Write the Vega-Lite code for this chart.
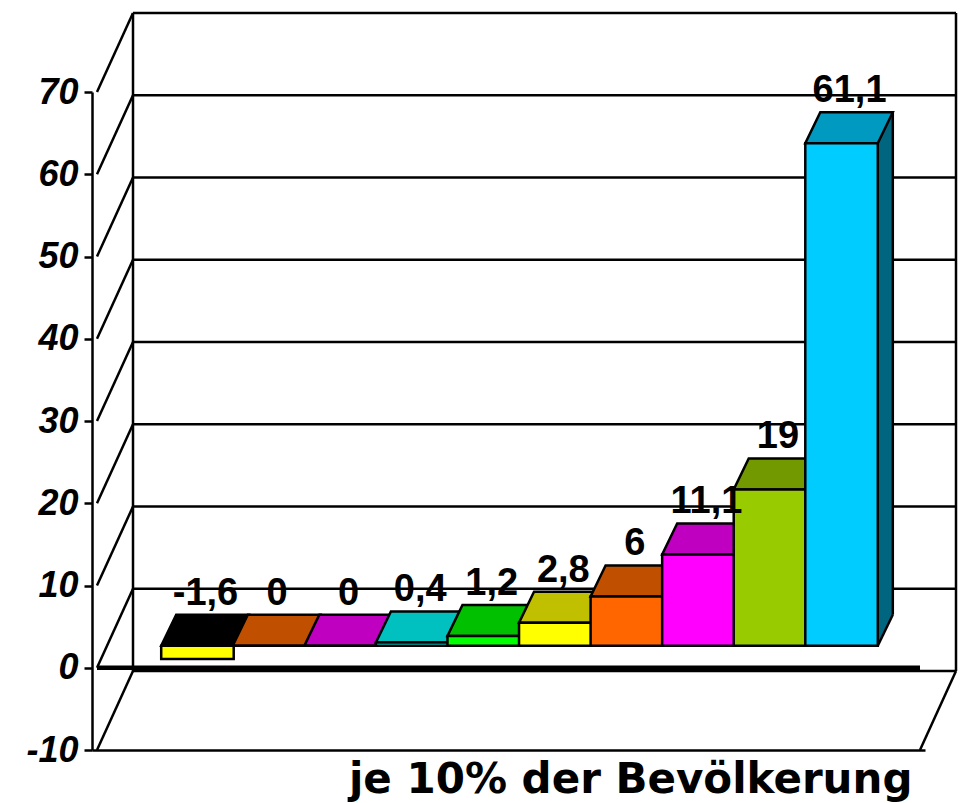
{
  "$schema": "https://vega.github.io/schema/vega-lite/v6.json",
  "width": 833,
  "height": 658,
  "autosize": {"type": "none"},
  "padding": {"left": 92, "top": 92, "right": 42, "bottom": 53},
  "background": "white",
  "config": {
    "view": {"stroke": null},
    "axisX": {
      "domainColor": "black", "domainWidth": 2.5, "ticks": false, "labels": false, "grid": false,
      "titleFont": "DejaVu Sans", "titleFontWeight": "bold", "titleFontSize": 42, "titleColor": "black",
      "titleX": 820, "titleY": 42, "titleAlign": "right", "titleBaseline": "alphabetic"
    },
    "axisY": {
      "domainColor": "black", "domainWidth": 2.5, "ticks": true, "tickColor": "black", "tickWidth": 2.5, "tickSize": 8,
      "labelFont": "Liberation Sans", "labelFontWeight": "bold", "labelFontStyle": "italic",
      "labelFontSize": 36, "labelColor": "black", "labelPadding": 6, "labelOverlap": false, "labelFlush": false,
      "grid": false
    }
  },
  "datasets": {
    "deciles": [
      {"d": 1, "v": -1.6, "lbl": "-1,6"},
      {"d": 2, "v": 0, "lbl": "0"},
      {"d": 3, "v": 0, "lbl": "0"},
      {"d": 4, "v": 0.4, "lbl": "0,4"},
      {"d": 5, "v": 1.2, "lbl": "1,2"},
      {"d": 6, "v": 2.8, "lbl": "2,8"},
      {"d": 7, "v": 6, "lbl": "6"},
      {"d": 8, "v": 11.1, "lbl": "11,1"},
      {"d": 9, "v": 19, "lbl": "19"},
      {"d": 10, "v": 61.1, "lbl": "61,1"}
    ],
    "grid": [
      {"g": -10}, {"g": 0}, {"g": 10}, {"g": 20}, {"g": 30},
      {"g": 40}, {"g": 50}, {"g": 60}, {"g": 70}
    ]
  },
  "layer": [
    {
      "data": {"name": "grid"},
      "mark": {"type": "rule", "stroke": "black", "strokeWidth": 2.5, "xOffset": 36, "x2Offset": 36, "yOffset": -79, "y2Offset": -79},
      "encoding": {
        "x": {"datum": -0.25, "type": "quantitative", "scale": {"domain": [-0.25, 11.25], "nice": false, "zero": false}, "title": "je 10% der Bevölkerung"},
        "x2": {"datum": 11.25},
        "y": {"field": "g", "type": "quantitative", "scale": {"domain": [-10, 70], "nice": false, "zero": false}, "title": null,
          "axis": {"values": [-10, 0, 10, 20, 30, 40, 50, 60, 70], "labelExpr": "'' + datum.value", "labelOverlap": false, "labelFlush": false, "labelFontSize": 36}},
        "y2": {"field": "g"}
      }
    },
    {
      "data": {"name": "grid"},
      "mark": {"type": "rule", "stroke": "black", "strokeWidth": 2.5, "x2Offset": 36, "y2Offset": -79},
      "encoding": {
        "x": {"datum": -0.25, "type": "quantitative", "scale": {"domain": [-0.25, 11.25], "nice": false, "zero": false}, "title": "je 10% der Bevölkerung"},
        "x2": {"datum": -0.25},
        "y": {"field": "g", "type": "quantitative", "scale": {"domain": [-10, 70], "nice": false, "zero": false}, "title": null,
          "axis": {"values": [-10, 0, 10, 20, 30, 40, 50, 60, 70], "labelExpr": "'' + datum.value", "labelOverlap": false, "labelFlush": false, "labelFontSize": 36}},
        "y2": {"field": "g"}
      }
    },
    {
      "data": {"values": [{}]},
      "mark": {"type": "rule", "stroke": "black", "strokeWidth": 2.5, "xOffset": 36, "x2Offset": 36, "yOffset": -79, "y2Offset": -79},
      "encoding": {
        "x": {"datum": -0.25, "type": "quantitative", "scale": {"domain": [-0.25, 11.25], "nice": false, "zero": false}, "title": "je 10% der Bevölkerung"},
        "x2": {"datum": -0.25},
        "y": {"datum": -10, "type": "quantitative", "scale": {"domain": [-10, 70], "nice": false, "zero": false}, "title": null,
          "axis": {"values": [-10, 0, 10, 20, 30, 40, 50, 60, 70], "labelExpr": "'' + datum.value", "labelOverlap": false, "labelFlush": false, "labelFontSize": 36}},
        "y2": {"datum": 70}
      }
    },
    {
      "data": {"values": [{}]},
      "mark": {"type": "rule", "stroke": "black", "strokeWidth": 2.5, "xOffset": 36, "x2Offset": 36, "yOffset": -79, "y2Offset": -79},
      "encoding": {
        "x": {"datum": 11.25, "type": "quantitative", "scale": {"domain": [-0.25, 11.25], "nice": false, "zero": false}, "title": "je 10% der Bevölkerung"},
        "x2": {"datum": 11.25},
        "y": {"datum": -10, "type": "quantitative", "scale": {"domain": [-10, 70], "nice": false, "zero": false}, "title": null,
          "axis": {"values": [-10, 0, 10, 20, 30, 40, 50, 60, 70], "labelExpr": "'' + datum.value", "labelOverlap": false, "labelFlush": false, "labelFontSize": 36}},
        "y2": {"datum": 70}
      }
    },
    {
      "data": {"values": [{}]},
      "mark": {"type": "rule", "stroke": "black", "strokeWidth": 2.5, "x2Offset": 36, "y2Offset": -79},
      "encoding": {
        "x": {"datum": 11.25, "type": "quantitative", "scale": {"domain": [-0.25, 11.25], "nice": false, "zero": false}, "title": "je 10% der Bevölkerung"},
        "x2": {"datum": 11.25},
        "y": {"datum": -10, "type": "quantitative", "scale": {"domain": [-10, 70], "nice": false, "zero": false}, "title": null,
          "axis": {"values": [-10, 0, 10, 20, 30, 40, 50, 60, 70], "labelExpr": "'' + datum.value", "labelOverlap": false, "labelFlush": false, "labelFontSize": 36}},
        "y2": {"datum": -10}
      }
    },
    {
      "data": {"values": [{}]},
      "mark": {"type": "rule", "stroke": "black", "strokeWidth": 4.5},
      "encoding": {
        "x": {"datum": -0.25, "type": "quantitative", "scale": {"domain": [-0.25, 11.25], "nice": false, "zero": false}, "title": "je 10% der Bevölkerung"},
        "x2": {"datum": 11.25},
        "y": {"datum": 0, "type": "quantitative", "scale": {"domain": [-10, 70], "nice": false, "zero": false}, "title": null,
          "axis": {"values": [-10, 0, 10, 20, 30, 40, 50, 60, 70], "labelExpr": "'' + datum.value", "labelOverlap": false, "labelFlush": false, "labelFontSize": 36}},
        "y2": {"datum": 0}
      }
    },
    {
      "data": {"name": "deciles"},
      "transform": [{"filter": "datum.d == 10"}],
      "mark": {"type": "bar", "width": 72.5, "fill": "#006680", "stroke": null, "xOffset": 26, "yOffset": -53, "y2Offset": -53},
      "encoding": {
        "x": {"field": "d", "type": "quantitative", "scale": {"domain": [-0.25, 11.25], "nice": false, "zero": false}, "title": "je 10% der Bevölkerung"},
        "y": {"field": "v", "type": "quantitative", "scale": {"domain": [-10, 70], "nice": false, "zero": false}, "title": null,
          "axis": {"values": [-10, 0, 10, 20, 30, 40, 50, 60, 70], "labelExpr": "'' + datum.value", "labelOverlap": false, "labelFlush": false, "labelFontSize": 36}},
        "y2": {"datum": 0}
      }
    },
    {
      "data": {"name": "deciles"},
      "transform": [{"filter": "datum.d == 10"}],
      "mark": {"type": "point", "shape": "M 36.25 0 L 36.25 -33 L 51.25 -33 L 51.25 -31 Z", "size": 4, "filled": true, "fill": "#006680", "strokeWidth": 0, "opacity": 1, "xOffset": 11, "yOffset": -22},
      "encoding": {
        "x": {"field": "d", "type": "quantitative", "scale": {"domain": [-0.25, 11.25], "nice": false, "zero": false}, "title": "je 10% der Bevölkerung"},
        "y": {"datum": 0, "type": "quantitative", "scale": {"domain": [-10, 70], "nice": false, "zero": false}, "title": null,
          "axis": {"values": [-10, 0, 10, 20, 30, 40, 50, 60, 70], "labelExpr": "'' + datum.value", "labelOverlap": false, "labelFlush": false, "labelFontSize": 36}}
      }
    },
    {
      "data": {"name": "deciles"},
      "transform": [{"filter": "datum.d == 10"}],
      "mark": {"type": "rule", "stroke": "black", "strokeWidth": 2.5, "xOffset": 62.25, "x2Offset": 62.25, "yOffset": -53, "y2Offset": -53},
      "encoding": {
        "x": {"field": "d", "type": "quantitative", "scale": {"domain": [-0.25, 11.25], "nice": false, "zero": false}, "title": "je 10% der Bevölkerung"},
        "x2": {"field": "d"},
        "y": {"field": "v", "type": "quantitative", "scale": {"domain": [-10, 70], "nice": false, "zero": false}, "title": null,
          "axis": {"values": [-10, 0, 10, 20, 30, 40, 50, 60, 70], "labelExpr": "'' + datum.value", "labelOverlap": false, "labelFlush": false, "labelFontSize": 36}},
        "y2": {"datum": 0}
      }
    },
    {
      "data": {"name": "deciles"},
      "transform": [{"filter": "datum.d == 10"}],
      "mark": {"type": "rule", "stroke": "black", "strokeWidth": 2.5, "xOffset": 47.25, "x2Offset": 62.25, "yOffset": -22, "y2Offset": -53},
      "encoding": {
        "x": {"field": "d", "type": "quantitative", "scale": {"domain": [-0.25, 11.25], "nice": false, "zero": false}, "title": "je 10% der Bevölkerung"},
        "x2": {"field": "d"},
        "y": {"datum": 0, "type": "quantitative", "scale": {"domain": [-10, 70], "nice": false, "zero": false}, "title": null,
          "axis": {"values": [-10, 0, 10, 20, 30, 40, 50, 60, 70], "labelExpr": "'' + datum.value", "labelOverlap": false, "labelFlush": false, "labelFontSize": 36}},
        "y2": {"datum": 0}
      }
    },
    {
      "data": {"name": "deciles"},
      "transform": [{"calculate": "max(datum.v, 0)", "as": "top"}],
      "mark": {"type": "point", "shape": "M -36.25 0 L 36.25 0 L 51.25 -31 L -21.25 -31 Z", "size": 4, "filled": true, "opacity": 1, "stroke": "black", "strokeWidth": 2.5, "strokeJoin": "miter", "xOffset": 11, "yOffset": -22},
      "encoding": {
        "x": {"field": "d", "type": "quantitative", "scale": {"domain": [-0.25, 11.25], "nice": false, "zero": false}, "title": "je 10% der Bevölkerung"},
        "y": {"field": "top", "type": "quantitative", "scale": {"domain": [-10, 70], "nice": false, "zero": false}, "title": null,
          "axis": {"values": [-10, 0, 10, 20, 30, 40, 50, 60, 70], "labelExpr": "'' + datum.value", "labelOverlap": false, "labelFlush": false, "labelFontSize": 36}},
        "fill": {
          "field": "d", "type": "nominal", "legend": null,
          "scale": {"domain": [1, 2, 3, 4, 5, 6, 7, 8, 9, 10], "range": ["#000000", "#C05000", "#C000C0", "#00C0C0", "#00C000", "#C0C000", "#C05000", "#C000C0", "#739900", "#0099C0"]}
        }
      }
    },
    {
      "data": {"name": "deciles"},
      "mark": {"type": "bar", "width": 72.5, "stroke": "black", "strokeWidth": 2.5, "strokeJoin": "miter", "xOffset": 11, "yOffset": -22, "y2Offset": -22},
      "encoding": {
        "x": {"field": "d", "type": "quantitative", "scale": {"domain": [-0.25, 11.25], "nice": false, "zero": false}, "title": "je 10% der Bevölkerung"},
        "y": {"field": "v", "type": "quantitative", "scale": {"domain": [-10, 70], "nice": false, "zero": false}, "title": null,
          "axis": {"values": [-10, 0, 10, 20, 30, 40, 50, 60, 70], "labelExpr": "'' + datum.value", "labelOverlap": false, "labelFlush": false, "labelFontSize": 36}},
        "y2": {"datum": 0},
        "color": {
          "field": "d", "type": "nominal", "legend": null,
          "scale": {"domain": [1, 2, 3, 4, 5, 6, 7, 8, 9, 10], "range": ["#FFFF00", "#FF6600", "#FF00FF", "#00FFFF", "#00FF00", "#FFFF00", "#FF6600", "#FF00FF", "#99CC00", "#00CCFF"]}
        }
      }
    },
    {
      "data": {"name": "deciles"},
      "transform": [{"calculate": "max(datum.v, 0)", "as": "top"}],
      "mark": {"type": "text", "font": "Liberation Sans", "fontWeight": "bold", "fontSize": 38, "color": "black", "align": "center", "baseline": "alphabetic", "xOffset": 19, "yOffset": -63},
      "encoding": {
        "x": {"field": "d", "type": "quantitative", "scale": {"domain": [-0.25, 11.25], "nice": false, "zero": false}, "title": "je 10% der Bevölkerung"},
        "y": {"field": "top", "type": "quantitative", "scale": {"domain": [-10, 70], "nice": false, "zero": false}, "title": null,
          "axis": {"values": [-10, 0, 10, 20, 30, 40, 50, 60, 70], "labelExpr": "'' + datum.value", "labelOverlap": false, "labelFlush": false, "labelFontSize": 36}},
        "text": {"field": "lbl"}
      }
    }
  ]
}
